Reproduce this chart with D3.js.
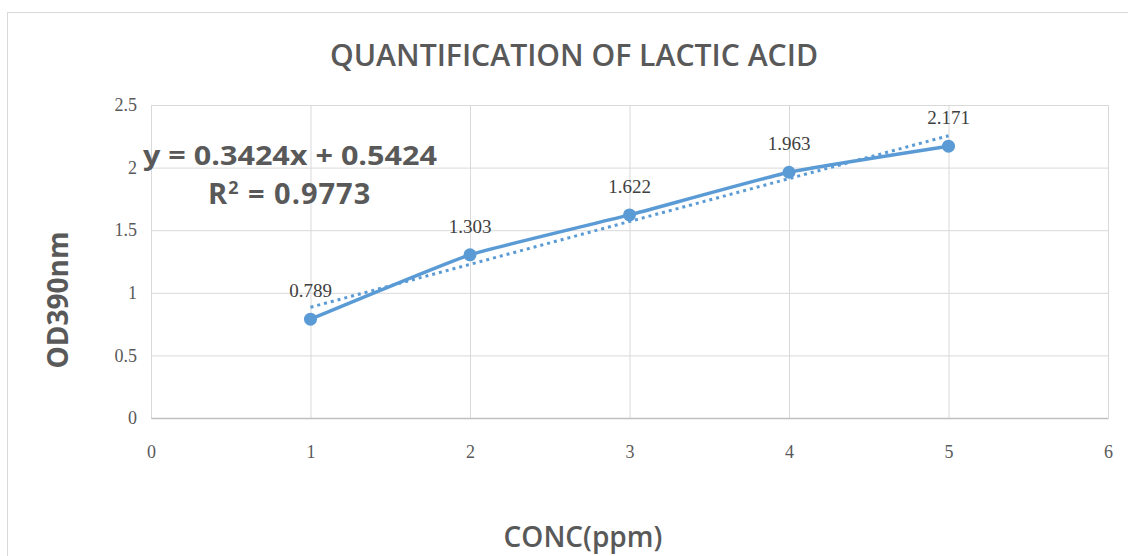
<!DOCTYPE html>
<html>
<head>
<meta charset="utf-8">
<script src="https://cdn.jsdelivr.net/npm/d3@7"></script>
<style>
	body { margin: 0; background: #fff; }
</style>
</head>
<body>
<div id="chart"></div>
<script>
const concValues = [1, 2, 3, 4, 5];
const odValues = [0.789, 1.303, 1.622, 1.963, 2.171];
const odLabels = ['0.789', '1.303', '1.622', '1.963', '2.171'];
const xTicks = [0, 1, 2, 3, 4, 5, 6];
const yTicks = [0, 0.5, 1, 1.5, 2, 2.5];
const yTickLabels = ['0', '0.5', '1', '1.5', '2', '2.5'];
const trendSlope = 0.3424;
const trendIntercept = 0.5424;
const trendText = 'y = 0.3424x + 0.5424';
const r2Value = '0.9773';

const MARGIN = { LEFT: 151, RIGHT: 20, TOP: 105, BOTTOM: 138 };
const WIDTH = 1128;
const HEIGHT = 556;
const BLUE = '#5b9bd5';

const chartWidth = 1108 - MARGIN.LEFT;
const chartHeight = 418 - MARGIN.TOP;

const svg = d3.select('#chart').append('svg')
	.attr('width', WIDTH)
	.attr('height', HEIGHT);

// outer chart frame
svg.append('rect')
	.attr('x', 7.5)
	.attr('y', 12.5)
	.attr('width', WIDTH)
	.attr('height', HEIGHT)
	.attr('fill', '#fff')
	.attr('stroke', '#d9d9d9');

svg.append('text')
	.text('QUANTIFICATION OF LACTIC ACID')
	.attr('x', 574)
	.attr('y', 66)
	.attr('text-anchor', 'middle')
	.attr('textLength', 488)
	.attr('lengthAdjust', 'spacingAndGlyphs')
	.style('font-family', 'Open Sans')
	.style('font-weight', '600')
	.style('font-size', '31px')
	.style('fill', '#595959');

const g = svg.append('g')
	.attr('transform', `translate(${MARGIN.LEFT},${MARGIN.TOP})`);

const x = d3.scaleLinear().domain([0, 6]).range([0, chartWidth]);
const y = d3.scaleLinear().domain([0, 2.5]).range([chartHeight, 0]);

// gridlines
g.append('g')
	.call(d3.axisLeft(y).tickValues(yTicks).tickSize(-chartWidth).tickFormat(''))
	.call(s => s.select('.domain').remove())
	.call(s => s.selectAll('line').attr('stroke', '#d9d9d9'));

g.append('g')
	.attr('transform', `translate(0,${chartHeight})`)
	.call(d3.axisBottom(x).tickValues(xTicks).tickSize(-chartHeight).tickFormat(''))
	.call(s => s.select('.domain').remove())
	.call(s => s.selectAll('line').attr('stroke', '#d9d9d9'));

// axes with labels
const axisY = g.append('g')
	.call(d3.axisLeft(y).tickValues(yTicks).tickSize(0).tickPadding(14)
		.tickFormat((d, i) => yTickLabels[i]));
axisY.select('.domain').remove();

const axisX = g.append('g')
	.attr('transform', `translate(0,${chartHeight})`)
	.call(d3.axisBottom(x).tickValues(xTicks).tickSize(0).tickPadding(27)
		.tickFormat(d3.format('d')));
axisX.select('.domain').attr('stroke', '#bfbfbf').attr('stroke-width', 1.5);

g.selectAll('.tick text')
	.style('font-family', 'Liberation Serif')
	.style('font-size', '18px')
	.style('fill', '#595959');

// trend line
const trendLine = d3.line()
	.x(d => x(d))
	.y(d => y(trendSlope * d + trendIntercept));

g.append('path')
	.datum([concValues[0], concValues[concValues.length - 1]])
	.attr('d', trendLine)
	.attr('fill', 'none')
	.attr('stroke', BLUE)
	.attr('stroke-width', 3)
	.attr('stroke-dasharray', '3,4');

// data line
const dataLine = d3.line()
	.x((d, i) => x(concValues[i]))
	.y(d => y(d))
	.curve(d3.curveCardinal.tension(0.6));

g.append('path')
	.datum(odValues)
	.attr('d', dataLine)
	.attr('fill', 'none')
	.attr('stroke', BLUE)
	.attr('stroke-width', 3.5);

g.selectAll('.dot')
	.data(odValues)
	.enter().append('circle')
		.attr('cx', (d, i) => x(concValues[i]))
		.attr('cy', d => y(d))
		.attr('r', 6.5)
		.attr('fill', BLUE);

g.selectAll('.data-label')
	.data(odValues)
	.enter().append('text')
		.text((d, i) => odLabels[i])
		.attr('x', (d, i) => x(concValues[i]))
		.attr('y', d => y(d) - 22)
		.attr('text-anchor', 'middle')
		.style('font-family', 'Liberation Serif')
		.style('font-size', '19px')
		.style('fill', '#404040');

// equation
const eq = svg.append('g')
	.style('font-family', 'Open Sans')
	.style('font-weight', 'bold')
	.style('font-size', '27px')
	.style('fill', '#595959');

eq.append('text')
	.text(trendText)
	.attr('x', 143)
	.attr('y', 165)
	.attr('textLength', 294)
	.attr('lengthAdjust', 'spacingAndGlyphs');

const r2 = eq.append('text')
	.attr('x', 208)
	.attr('y', 204)
	.style('font-size', '29px')
	.style('letter-spacing', '1px');
r2.append('tspan').text('R');
r2.append('tspan').text('2').attr('dy', -10).style('font-size', '18px');
r2.append('tspan').text(' = ' + r2Value).attr('dy', 10);

// axis titles
svg.append('text')
	.text('OD390nm')
	.attr('transform', 'translate(68,300) rotate(-90)')
	.attr('text-anchor', 'middle')
	.style('font-family', 'Open Sans')
	.style('font-weight', 'bold')
	.style('font-size', '28px')
	.style('fill', '#595959');

svg.append('text')
	.text('CONC(ppm)')
	.attr('x', 583)
	.attr('y', 547)
	.attr('text-anchor', 'middle')
	.style('font-family', 'Open Sans')
	.style('font-weight', '600')
	.style('font-size', '28px')
	.style('fill', '#595959');
</script>
</body>
</html>
